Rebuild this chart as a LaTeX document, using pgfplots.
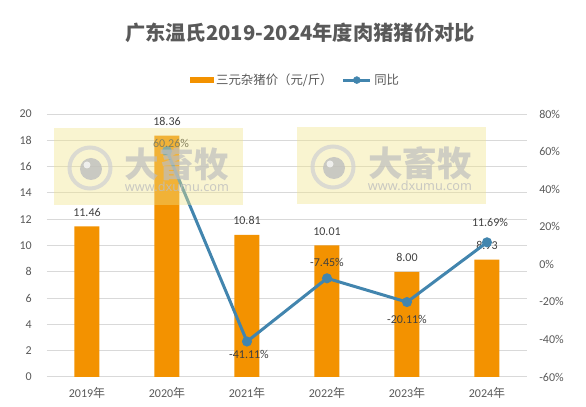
\documentclass[border=0pt]{standalone}
\usepackage{fontspec}
\usepackage{graphicx}
\usepackage{pgfplots}
\pgfplotsset{compat=1.18}
\setmainfont{Carlito}
\newfontfamily\cjk{Noto Sans CJK SC}
\newfontfamily\wmfont{Noto Sans}
\definecolor{barorange}{HTML}{F39200}
\definecolor{lineblue}{HTML}{4285AE}
\definecolor{txtgray}{HTML}{595959}
\definecolor{lbl}{HTML}{404040}
\definecolor{gridgray}{HTML}{D9D9D9}
\definecolor{wmyellow}{HTML}{F0E48A}
\definecolor{wmgray}{HTML}{BEBEBE}
\begin{document}
\begin{tikzpicture}
% left axis with bars
\begin{axis}[
  name=ax1,
  scale only axis, width=360pt, height=197.25pt,
  xmin=-0.5, xmax=5.5, ymin=0, ymax=20,
  xtick={0,1,2,3,4,5},
  xticklabels={2019{\cjk 年},2020{\cjk 年},2021{\cjk 年},2022{\cjk 年},2023{\cjk 年},2024{\cjk 年}},
  ytick={0,2,4,6,8,10,12,14,16,18,20},
  yticklabels={0,2,4,6,8,10,12,14,16,18,20},
  axis line style={draw=none},
  major tick length=0pt,
  ymajorgrids, grid style={gridgray, line width=0.75pt},
  ticklabel style={font=\fontsize{9}{10}\selectfont, text=txtgray},
  yticklabel style={anchor=east, inner sep=0pt, xshift=-11.25pt},
  xticklabel style={anchor=north, inner sep=0pt, yshift=-7.5pt},
  legend style={at={(0.518,1.129)}, anchor=center, draw=none, fill=none,
    font=\cjk\fontsize{9.3}{10}\selectfont, text=txtgray,
    legend columns=2, /tikz/every even column/.append style={column sep=5pt}},
]
\addplot[ybar, bar width=18.75pt, draw=none, fill=barorange,
  point meta=explicit symbolic, nodes near coords,
  every node near coord/.append style={anchor=center, yshift=10.5pt, font=\fontsize{9}{10}\selectfont, text=lbl},
  legend image code/.code={\fill[barorange] (0pt,-2.25pt) rectangle (18pt,2.25pt);}]
  coordinates {(0,11.46)[11.46] (1,18.36)[18.36] (2,10.81)[10.81] (3,10.01)[10.01] (4,8.00)[8.00] (5,8.93)[8.93]};
\addlegendentry{三元杂猪价（元/斤）}
\addlegendimage{legend image code/.code={\draw[lineblue, line width=2.25pt] (0pt,0pt) -- (20pt,0pt);
  \fill[lineblue] (10pt,0pt) circle (2.6pt);}}
\addlegendentry{同比}
\end{axis}
% right axis with line
\begin{axis}[
  scale only axis, width=360pt, height=197.25pt,
  xmin=-0.5, xmax=5.5, ymin=-60, ymax=80,
  hide x axis,
  axis y line*=right,
  ytick={-60,-40,-20,0,20,40,60,80},
  yticklabels={-60\%,-40\%,-20\%,0\%,20\%,40\%,60\%,80\%},
  axis line style={draw=none},
  major tick length=0pt,
  ticklabel style={font=\fontsize{9}{10}\selectfont, text=txtgray},
  yticklabel style={anchor=west, inner sep=0pt, xshift=9pt},
]
\addplot[lineblue, line width=2.25pt, mark=*, mark size=2.6pt, mark options={fill=lineblue}]
  coordinates {(1,60.26) (2,-41.11) (3,-7.45) (4,-20.11) (5,11.69)};
\pgfplotsset{lblstyle/.style={draw=none, mark=none, point meta=explicit symbolic, nodes near coords}}
\addplot[lblstyle, every node near coord/.append style={anchor=center, xshift=3pt, yshift=6pt, font=\fontsize{9}{10}\selectfont, text=lbl}]
  coordinates {(1,60.26)[60.26\%]};
\addplot[lblstyle, every node near coord/.append style={anchor=center, xshift=1.5pt, yshift=-9.75pt, font=\fontsize{9}{10}\selectfont, text=lbl}]
  coordinates {(2,-41.11)[-41.11\%]};
\addplot[lblstyle, every node near coord/.append style={anchor=center, yshift=12pt, font=\fontsize{9}{10}\selectfont, text=lbl}]
  coordinates {(3,-7.45)[-7.45\%]};
\addplot[lblstyle, every node near coord/.append style={anchor=center, yshift=-12.75pt, font=\fontsize{9}{10}\selectfont, text=lbl}]
  coordinates {(4,-20.11)[-20.11\%]};
\addplot[lblstyle, every node near coord/.append style={anchor=center, xshift=2.25pt, yshift=15pt, font=\fontsize{9}{10}\selectfont, text=lbl}]
  coordinates {(5,11.69)[11.69\%]};
\end{axis}
\begin{scope}[x=0.75pt,y=0.75pt,shift={(-47,-30)}]
% title
\node[text=txtgray, font=\cjk\bfseries\fontsize{15.2}{17}\selectfont] at (300,374) {广东温氏2019-2024年度肉猪猪价对比};
% watermarks
\foreach \dx/\dy in {0/0, 243/1} {
  \fill[wmyellow, opacity=0.4] (54+\dx,202+\dy) rectangle (243+\dx,279+\dy);
  \draw[wmgray!70, opacity=0.75, line width=3pt] (90+\dx,239+\dy) circle (20.5);
  \fill[wmgray, opacity=0.8] (91+\dx,238+\dy) circle (11);
  \fill[white, opacity=0.7] (87+\dx,242+\dy) circle (3.5);
  \node[text=wmgray, opacity=0.7, font=\cjk\bfseries\fontsize{26}{28}\selectfont] at (177+\dx,243+\dy) {大畜牧};
  \node[text=wmgray, opacity=0.8, inner sep=0pt] at (177+\dx,220+\dy) {\resizebox{78pt}{!}{\wmfont www.dxumu.com}};
}
\end{scope}
\pgfresetboundingbox
\useasboundingbox (-35.25pt,-22.5pt) rectangle (404.25pt,282.75pt);
\end{tikzpicture}
\end{document}
